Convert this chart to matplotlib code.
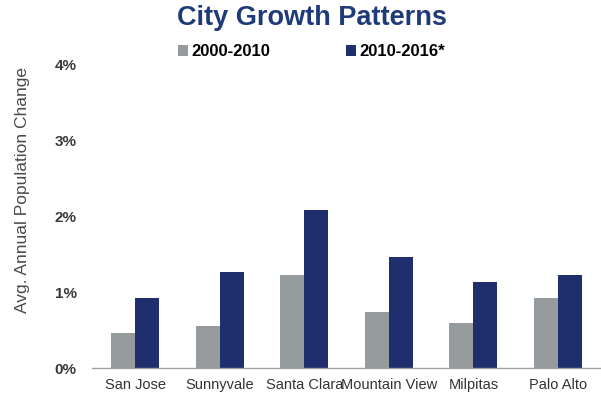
import matplotlib
matplotlib.use("Agg")
import matplotlib.pyplot as plt
import numpy as np
from matplotlib.patches import Patch

plt.rcParams['font.family'] = ['Liberation Sans', 'DejaVu Sans']

cities = ["San Jose", "Sunnyvale", "Santa Clara", "Mountain View", "Milpitas", "Palo Alto"]
growth_2000_2010 = [0.46, 0.55, 1.23, 0.74, 0.59, 0.93]
growth_2010_2016 = [0.93, 1.27, 2.08, 1.47, 1.13, 1.23]
series_labels = ["2000-2010", "2010-2016*"]
y_ticks = [0, 1, 2, 3, 4]
y_tick_labels = ["0%", "1%", "2%", "3%", "4%"]

grey = "#969b9d"
navy = "#1f2f6d"
title_blue = "#1f3a78"

fig = plt.figure(figsize=(6.01, 3.96), dpi=100)
ax = fig.add_axes([92 / 601, 28 / 396, 509 / 601, 303 / 396])

x = np.arange(len(cities))
w = 0.284
ax.bar(x - w / 2, growth_2000_2010, width=w, color=grey, linewidth=0)
ax.bar(x + w / 2, growth_2010_2016, width=w, color=navy, linewidth=0)

ax.set_xlim(-0.51, 5.51)
ax.set_ylim(0, 4)
ax.set_yticks(y_ticks)
ax.set_yticklabels(y_tick_labels, fontsize=11, fontweight='bold', color="#3a3a3a")
ax.set_xticks(x)
ax.set_xticklabels(cities, fontsize=10.5, color="#333333")
ax.tick_params(axis='y', length=0, pad=11)
ax.tick_params(axis='x', length=0, pad=7)

for side in ["top", "right", "left"]:
    ax.spines[side].set_visible(False)
ax.spines["bottom"].set_color("#a0a0a0")
ax.spines["bottom"].set_linewidth(1.0)

fig.text(23 / 601, 1 - 190 / 396, "Avg. Annual Population Change", rotation=90,
         ha='center', va='center', fontsize=12.5, color="#4a4a4a")

fig.text(311.5 / 601, 1 - 18 / 396, "City Growth Patterns", ha='center', va='center',
         fontsize=19.5, fontweight='bold', color=title_blue)

handles = [Patch(facecolor=grey, edgecolor='none'), Patch(facecolor=navy, edgecolor='none')]
fig.legend(handles, series_labels, loc='center', bbox_to_anchor=(311.5 / 601, 1 - 52 / 396),
           ncol=2, frameon=False, prop={'size': 12, 'weight': 'bold'},
           handlelength=0.6, handleheight=0.6, handletextpad=0.2, columnspacing=4.6,
           borderpad=0, borderaxespad=0)

fig.savefig("out.png", dpi=100)
